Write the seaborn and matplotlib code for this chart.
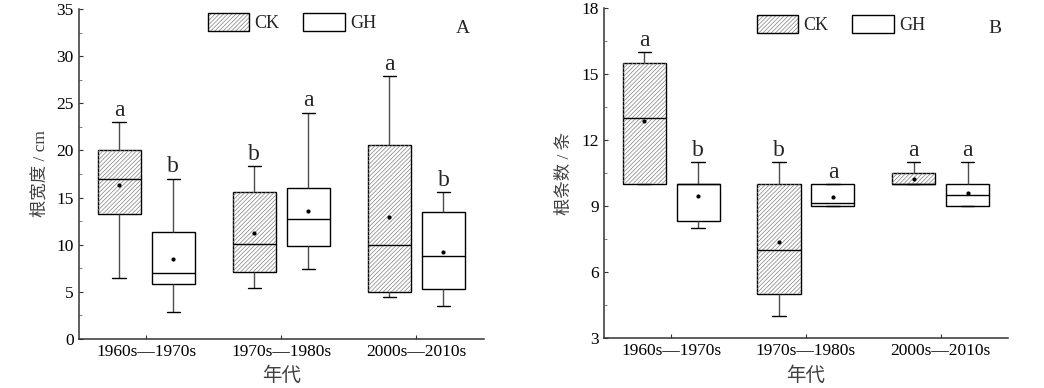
import pandas as pd
import seaborn as sns
import matplotlib.pyplot as plt
from matplotlib.patches import Patch, PathPatch
from matplotlib.ticker import AutoMinorLocator

# categories
periods = ['1960s—1970s', '1970s—1980s', '2000s—2010s']
groups = ['CK', 'GH']

# A: root width (cm), five-number summary per period: min, Q1, median, Q3, max
width_ck = [[6.5, 13.2, 17.0, 20.1, 23.0],
            [5.4, 7.1, 10.1, 15.6, 18.3],
            [4.4, 5.0, 10.0, 20.6, 27.9]]
width_gh = [[2.8, 5.85, 7.0, 11.3, 17.0],
            [7.4, 9.8, 12.75, 16.0, 24.0],
            [3.45, 5.3, 8.75, 13.5, 15.6]]
width_mean_ck = [16.3, 11.2, 12.9]
width_mean_gh = [8.5, 13.6, 9.25]
width_letters_ck = ['a', 'b', 'a']
width_letters_gh = ['b', 'a', 'b']

# B: root number
count_ck = [[10, 10, 13, 15.5, 16],
            [4, 5, 7, 10, 11],
            [10, 10, 10, 10.5, 11]]
count_gh = [[8, 8.35, 10, 10, 11],
            [9, 9, 9.17, 10, 10],
            [9, 9, 9.5, 10, 11]]
count_mean_ck = [12.86, 7.4, 10.24]
count_mean_gh = [9.45, 9.42, 9.62]
count_letters_ck = ['a', 'b', 'a']
count_letters_gh = ['b', 'a', 'a']

sns.set_style('ticks')
plt.rcParams['font.family'] = ['Liberation Serif', 'Noto Sans CJK SC']
plt.rcParams['hatch.linewidth'] = 0.5
plt.rcParams['axes.unicode_minus'] = False

HATCH = '////////'


def long_table(ck, gh):
    rows = []
    for g, summ in zip(groups, [ck, gh]):
        for p, vals in zip(periods, summ):
            for v in vals:
                rows.append({'period': p, 'group': g, 'value': v})
    return pd.DataFrame(rows)


def mean_table(mck, mgh):
    rows = []
    for g, ms in zip(groups, [mck, mgh]):
        for p, m in zip(periods, ms):
            rows.append({'period': p, 'group': g, 'mean': m})
    return pd.DataFrame(rows)


def panel(ax, ck, gh, mck, mgh, lck, lgh, ylim, ystep, ylabel, tag, leg_anchor, tag_xy):
    df = long_table(ck, gh)
    sns.boxplot(data=df, x='period', y='value', hue='group', order=periods,
                hue_order=groups, palette={'CK': 'white', 'GH': 'white'},
                whis=(0, 100), width=0.8, gap=0.2, linecolor='black',
                linewidth=1.0, showfliers=False, legend=False, ax=ax,
                capwidths=0.1, whiskerprops={'color': '0.3'})
    # hatch the CK boxes
    for patch in list(ax.patches):
        ext = patch.get_path().get_extents()
        cx = (ext.x0 + ext.x1) / 2
        if cx - round(cx) < 0:
            hp = PathPatch(patch.get_path(), facecolor='none', edgecolor='0.5',
                           hatch=HATCH, lw=0, zorder=patch.get_zorder() + 0.05)
            ax.add_patch(hp)

    mdf = mean_table(mck, mgh)
    sns.stripplot(data=mdf, x='period', y='mean', hue='group', order=periods,
                  hue_order=groups, palette={'CK': 'black', 'GH': 'black'},
                  dodge=True, jitter=False, size=3, legend=False, ax=ax, zorder=5)

    for i in range(len(periods)):
        for off, summ, let in [(-0.2, ck, lck), (0.2, gh, lgh)]:
            ax.annotate(let[i], (i + off, summ[i][4]), xytext=(0, 1),
                        textcoords='offset points', ha='center', va='bottom',
                        fontsize=17)

    ax.set_xlim(-0.5, 2.5)
    ax.set_ylim(*ylim)
    ax.set_yticks(range(ylim[0], ylim[1] + 1, ystep))
    ax.yaxis.set_minor_locator(AutoMinorLocator(2))
    ax.tick_params(direction='in', labelsize=12.5, length=3, width=0.8,
                   colors='0.2', labelcolor='black')
    ax.tick_params(which='minor', direction='in', length=2, width=0.6, colors='0.4')
    ax.set_xlabel('年代', fontsize=14, color='0.25', labelpad=5)
    ax.set_ylabel(ylabel, fontsize=12.5, color='0.25', labelpad=6)
    for s in ['top', 'right']:
        ax.spines[s].set_visible(False)
    for s in ['left', 'bottom']:
        ax.spines[s].set_color('0.2')
        ax.spines[s].set_linewidth(1.1)

    h_ck = (Patch(facecolor='white', edgecolor='0.5', hatch=HATCH, lw=0),
            Patch(facecolor='none', edgecolor='black', lw=1))
    h_gh = Patch(facecolor='white', edgecolor='black', lw=1)
    ax.legend([h_ck, h_gh], groups, loc='upper left', bbox_to_anchor=leg_anchor,
              ncol=2, frameon=False, fontsize=13, handlelength=2.3,
              handleheight=1.15, columnspacing=1.3, handletextpad=0.3,
              borderaxespad=0, borderpad=0)
    ax.text(tag_xy[0], tag_xy[1], tag, transform=ax.transAxes, fontsize=14,
            ha='center', va='center')


fig = plt.figure(figsize=(10.44, 3.88), dpi=100)
ax1 = fig.add_axes([0.0754, 0.127, 0.3882, 0.849])
ax2 = fig.add_axes([0.5785, 0.128, 0.387, 0.8506])

panel(ax1, width_ck, width_gh, width_mean_ck, width_mean_gh,
      width_letters_ck, width_letters_gh, (0, 35), 5, '根宽度 / cm', 'A',
      (0.318, 0.99), (0.949, 0.943))
panel(ax2, count_ck, count_gh, count_mean_ck, count_mean_gh,
      count_letters_ck, count_letters_gh, (3, 18), 3, '根条数 / 条', 'B',
      (0.378, 0.98), (0.968, 0.94))

fig.savefig('out.png', dpi=100)
